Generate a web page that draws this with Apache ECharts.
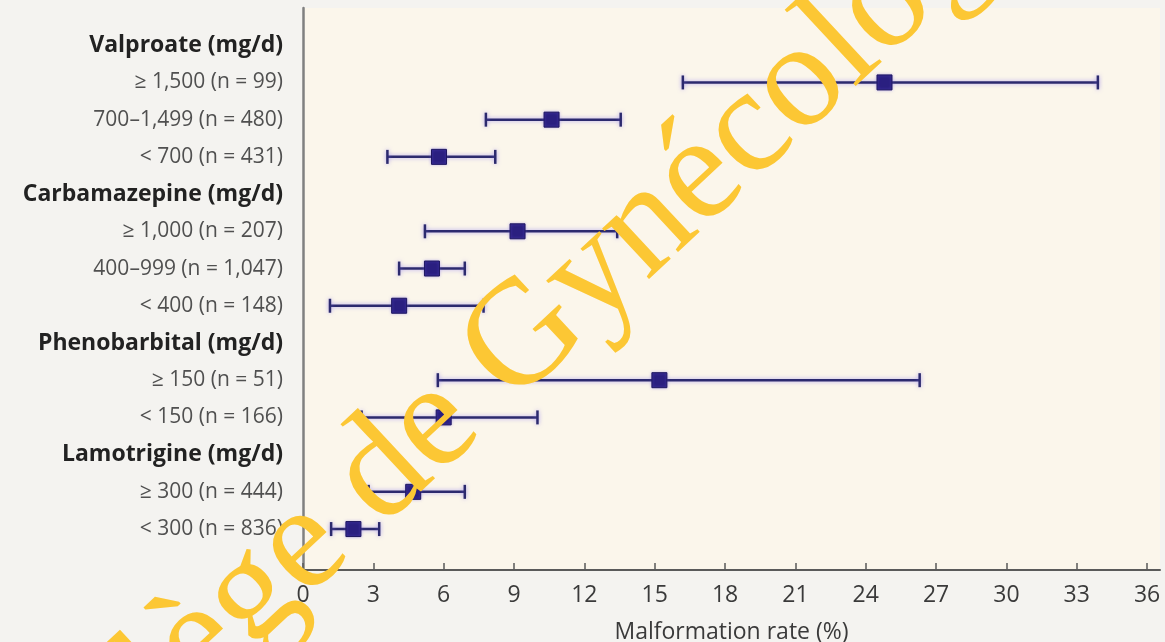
<!DOCTYPE html>
<html>
<head>
<meta charset="utf-8">
<script src="https://cdn.jsdelivr.net/npm/echarts@6/dist/echarts.min.js"></script>
<style>
  html, body { margin: 0; padding: 0; background: #f4f3f0; }
  #chart { width: 1165px; height: 642px; }
</style>
</head>
<body>
<div id="chart"></div>
<script>
// ---- data ----
const categories = [
  'Valproate (mg/d)', '≥ 1,500 (n = 99)', '700–1,499 (n = 480)', '< 700 (n = 431)',
  'Carbamazepine (mg/d)', '≥ 1,000 (n = 207)', '400–999 (n = 1,047)', '< 400 (n = 148)',
  'Phenobarbital (mg/d)', '≥ 150 (n = 51)', '< 150 (n = 166)',
  'Lamotrigine (mg/d)', '≥ 300 (n = 444)', '< 300 (n = 836)'
];
const isHeader = [true, false, false, false, true, false, false, false, true, false, false, true, false, false];
const rate  = [null, 24.8, 10.6, 5.8, null, 9.15, 5.5, 4.1, null, 15.2, 6.0, null, 4.7, 2.15];
const lower = [null, 16.2, 7.8, 3.6, null, 5.2, 4.1, 1.15, null, 5.75, 2.5, null, 2.8, 1.2];
const upper = [null, 33.9, 13.55, 8.2, null, 13.4, 6.9, 7.7, null, 26.3, 10.0, null, 6.9, 3.25];
const xTicks = [0, 3, 6, 9, 12, 15, 18, 21, 24, 27, 30, 33, 36];
const xName = 'Malformation rate (%)';
const watermark = 'Collège de Gynécologie';

// ---- build ----
const rowIdx = categories.map((_, i) => i);
const barData = [];
const pointData = [];
categories.forEach((c, i) => {
  if (rate[i] != null) {
    barData.push([lower[i], upper[i], i]);
    pointData.push([rate[i], i]);
  }
});

const chart = echarts.init(document.getElementById('chart'));
chart.setOption({
  backgroundColor: '#f4f3f0',
  animation: false,
  grid: {
    left: 303, right: 5, top: 8, bottom: 72,
    containLabel: false, outerBoundsMode: 'none',
    show: true, backgroundColor: '#fbf6eb', borderWidth: 0
  },
  xAxis: {
    type: 'value', min: 0, max: 36.55,
    name: xName, nameLocation: 'middle', nameGap: 51,
    nameTextStyle: { fontFamily: 'Open Sans', fontSize: 23, color: '#3a3a3a' },
    axisLine: { show: true, onZero: false, lineStyle: { color: '#5a5a5a', width: 2 } },
    axisTick: { show: true, inside: true, length: 7, customValues: xTicks, lineStyle: { color: '#5a5a5a', width: 1.5 } },
    axisLabel: { customValues: xTicks, margin: 14, fontFamily: 'Open Sans', fontSize: 23, color: '#3a3a3a' },
    splitLine: { show: false }
  },
  yAxis: {
    type: 'value', inverse: true, min: -1, max: 14.1,
    axisLine: { show: true, onZero: false, lineStyle: { color: '#808080', width: 2.5 } },
    axisTick: { show: false },
    splitLine: { show: false },
    axisLabel: {
      customValues: rowIdx, margin: 20,
      formatter: function (v) {
        const i = Math.round(v);
        return isHeader[i] ? '{h|' + categories[i] + '}' : '{i|' + categories[i] + '}';
      },
      rich: {
        h: { fontFamily: 'Open Sans', fontWeight: 'bold', fontSize: 23, color: '#222222' },
        i: { fontFamily: 'Open Sans', fontSize: 21, color: '#505050' }
      }
    }
  },
  series: [
    {
      type: 'custom',
      data: barData,
      encode: { x: [0, 1], y: 2 },
      renderItem: function (params, api) {
        const y = api.value(2);
        const p0 = api.coord([api.value(0), y]);
        const p1 = api.coord([api.value(1), y]);
        const h = 7;
        const style = { stroke: '#2c2a6e', lineWidth: 2.5, shadowBlur: 4, shadowColor: 'rgba(120,100,240,0.55)' };
        return {
          type: 'group',
          children: [
            { type: 'line', shape: { x1: p0[0], y1: p0[1], x2: p1[0], y2: p1[1] }, style: style },
            { type: 'line', shape: { x1: p0[0], y1: p0[1] - h, x2: p0[0], y2: p0[1] + h }, style: style },
            { type: 'line', shape: { x1: p1[0], y1: p1[1] - h, x2: p1[0], y2: p1[1] + h }, style: style }
          ]
        };
      },
      z: 2
    },
    {
      type: 'scatter',
      data: pointData,
      symbol: 'rect',
      symbolSize: 15,
      itemStyle: { color: '#2a1f80', borderColor: '#1e1760', borderWidth: 1, opacity: 1, shadowBlur: 3, shadowColor: 'rgba(120,100,240,0.5)' },
      z: 3
    }
  ],
  graphic: [
    {
      type: 'text',
      x: 516, y: 349,
      rotation: 43 * Math.PI / 180,
      z: 100,
      silent: true,
      style: {
        text: watermark,
        font: '150px "Liberation Serif"',
        fill: '#fcc734',
        align: 'center',
        verticalAlign: 'middle'
      }
    }
  ]
});
</script>
</body>
</html>
